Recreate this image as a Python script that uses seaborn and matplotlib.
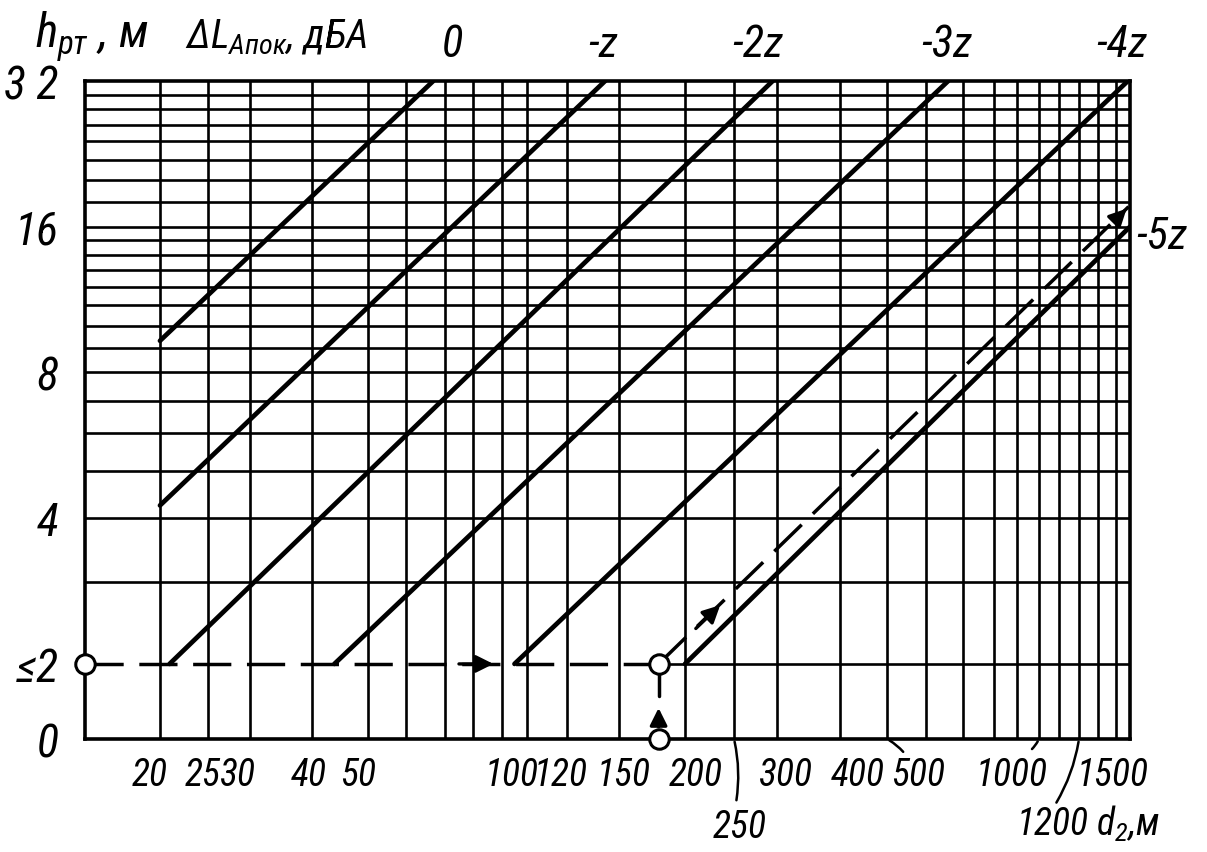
import numpy as np
import pandas as pd
import seaborn as sns
import matplotlib.pyplot as plt
from matplotlib.ticker import FixedLocator, NullFormatter

# --- nomogram scales -------------------------------------------------------
# distance d2, m  -> place on the printed (non uniform) scale
d_grid = [15, 20, 25, 30, 40, 50, 60, 70, 80, 90, 100, 120, 150, 200, 250, 300,
          400, 500, 600, 700, 800, 900, 1000, 1100, 1200, 1300, 1400, 1500]
d_scale = [85, 160, 208, 250, 312, 368, 406, 445, 473, 502, 527, 567, 619, 685,
           734, 777, 840, 887, 926, 963, 994, 1017, 1039, 1059, 1079, 1098, 1116, 1130]
# height h_rt, m -> doublings above 2 m (the "<=2" strip lies below 0)
h_knots = [2, 3, 4, 8, 16, 32]
h_scale = [0, 0.563, 1, 2, 3, 4]
strip = 0.515

h_grid = [3, 4, 5, 6, 7, 8, 9, 10, 11, 12, 13, 14, 15, 16, 18, 20, 22, 24, 26, 28, 30]
y_ticks = [0, 2, 4, 8, 16, 32]
y_labels = ['0', '≤2', '4', '8', '16', '3 2']
x_labels = [20, 25, 30, 40, 50, 100, 120, 150, 200, 250, 300, 400, 500, 1000, 1200, 1500]

# --- lines of equal dLA (start / end points) -------------------------------
iso_names = ['0', '-z', '-2z', '-3z', '-4z', '-5z']
d_start = [20, 20, 21, 44, 95, 200]
h_start = [9.3, 4.25, 2, 2, 2, 2]
d_end = [67, 142, 295, 660, 1485, 1500]
h_end = [32, 32, 32, 32, 32, 16]

# example key path
d_key = 180
key_end = (1490, 17.6)


def interp_ext(x, xp, fp):
    x = np.asarray(x, dtype=float)
    y = np.interp(x, xp, fp)
    y = np.where(x < xp[0], fp[0] + (x - xp[0]) * (fp[1] - fp[0]) / (xp[1] - xp[0]), y)
    y = np.where(x > xp[-1], fp[-1] + (x - xp[-1]) * (fp[-1] - fp[-2]) / (xp[-1] - xp[-2]), y)
    return y


def d_fwd(d):
    return interp_ext(d, d_grid, d_scale)


def d_inv(p):
    return interp_ext(p, d_scale, d_grid)


def h_fwd(h):
    h = np.asarray(h, dtype=float)
    up = interp_ext(np.log2(np.clip(h, 2, None)), np.log2(h_knots), h_scale)
    return np.where(h >= 2, up, (h - 2) / 2 * strip)


def h_inv(p):
    p = np.asarray(p, dtype=float)
    up = 2 ** interp_ext(np.clip(p, 0, None), h_scale, np.log2(h_knots))
    return np.where(p >= 0, up, 2 + p / strip * 2)


sns.set_theme(style='white', rc={'text.color': 'black', 'xtick.color': 'black',
                                 'ytick.color': 'black', 'axes.edgecolor': 'black'})
narrow = 'Roboto Condensed'
plt.rcParams['font.family'] = [narrow, 'Liberation Sans Narrow', 'DejaVu Sans']
plt.rcParams['font.style'] = 'italic'
plt.rcParams['mathtext.fontset'] = 'custom'
plt.rcParams['mathtext.it'] = narrow + ':italic'
plt.rcParams['mathtext.rm'] = narrow + ':italic'

fig = plt.figure(figsize=(12.07, 8.53), dpi=100)
ax = fig.add_axes([0.0704, 0.1325, 0.8658, 0.7714])
ax.set_xscale('function', functions=(d_fwd, d_inv))
ax.set_yscale('function', functions=(h_fwd, h_inv))
ax.set_xlim(15, 1500)
ax.set_ylim(0, 32)

# grid of the nomogram
for d in d_grid[1:-1]:
    ax.axvline(d, color='black', lw=1.9, zorder=1)
for h in h_grid:
    ax.axhline(h, color='black', lw=1.9, zorder=1)
ax.plot([d_key, 1500], [2, 2], color='black', lw=1.9, zorder=1)

# lines of equal dLA
rows = []
for name, ds, hs, de, he in zip(iso_names, d_start, h_start, d_end, h_end):
    rows.append({'line': name, 'd': ds, 'h': hs})
    rows.append({'line': name, 'd': de, 'h': he})
iso = pd.DataFrame(rows)
sns.lineplot(data=iso, x='d', y='h', units='line', estimator=None, sort=False,
             color='black', lw=3.4, ax=ax, zorder=3)

# key path
dash = dict(color='black', lw=2.5, dashes=(11, 4.5), zorder=4)
ax.plot([15, d_key], [2, 2], clip_on=False, **dash)
ax.plot([d_key, key_end[0]], [2, key_end[1]], **dash)
ax.plot([d_key, d_key], [1.15, 1.8], color='black', lw=2.5, zorder=4)
arrow = dict(arrowstyle='-|>', color='black', lw=2.4, mutation_scale=26)
ax.annotate('', xy=(88, 2), xytext=(74, 2), arrowprops=arrow, zorder=5)
ax.annotate('', xy=(d_key, 0.9), xytext=(d_key, 0.25), arrowprops=arrow, zorder=5)
ax.annotate('', xy=(238, 2.7), xytext=(209, 2.36), arrowprops=arrow, zorder=5)
ax.annotate('', xy=key_end, xytext=(1430, 16.9), arrowprops=arrow, zorder=5,
            annotation_clip=False)
ax.plot([15, d_key, d_key], [2, 2, 0], ls='none', marker='o', ms=14, mfc='white',
        mec='black', mew=2.2, clip_on=False, zorder=6)

# axes
for s in ax.spines.values():
    s.set_visible(True)
    s.set_color('black')
    s.set_linewidth(2.6)
ax.xaxis.set_major_locator(FixedLocator(d_grid))
ax.xaxis.set_major_formatter(NullFormatter())
ax.xaxis.set_minor_formatter(NullFormatter())
ax.yaxis.set_major_locator(FixedLocator(y_ticks))
ax.set_yticklabels(y_labels, fontsize=33)
ax.yaxis.set_minor_formatter(NullFormatter())
ax.tick_params(length=0)
ax.tick_params(axis='y', pad=19)
ax.set_xlabel('')
ax.set_ylabel('')

# distance labels (px offsets of the printed sheet)
px = 0.72
x_shift = {20: -10, 25: -5, 30: -12, 40: -3, 50: -10, 100: -15, 120: -6, 150: 5,
           200: 11, 250: 6, 300: 9, 400: 18, 500: 31, 1000: -27, 1500: -17}
for d in x_labels:
    if d == 1200:
        continue
    low = d == 250
    ax.annotate(str(d), xy=(d, 0), xycoords=('data', 'axes fraction'),
                xytext=(x_shift[d] * px, (-88 if low else -36) * px),
                textcoords='offset points', ha='center', va='center', fontsize=27,
                annotation_clip=False)
ax.annotate('1200 $d_2$,м', xy=(1200, 0), xycoords=('data', 'axes fraction'),
            xytext=(-63 * px, -84 * px), textcoords='offset points', ha='left',
            va='center', fontsize=27, annotation_clip=False)
leaders = {250: (2, -64), 500: (18, -15), 1000: (-9, -12), 1200: (-24, -66)}
for d, (dx, dy) in leaders.items():
    ax.annotate('', xy=(d, 0), xycoords=('data', 'axes fraction'),
                xytext=(dx * px, dy * px), textcoords='offset points',
                arrowprops=dict(arrowstyle='-', color='black', lw=1.8,
                                connectionstyle='arc3,rad=0.1'),
                annotation_clip=False)

# dLA labels on top
top_shift = [19, -2, -15, -1, -6]
for name, de, dx in zip(iso_names[:5], d_end[:5], top_shift):
    ax.annotate(name, xy=(de, 1), xycoords=('data', 'axes fraction'),
                xytext=(dx * px, 37 * px), textcoords='offset points',
                ha='center', va='center', fontsize=32, annotation_clip=False)
ax.annotate(iso_names[5], xy=(1500, 15.3), xytext=(6 * px, 0),
            textcoords='offset points', ha='left', va='center', fontsize=32,
            annotation_clip=False)

fig.text(35 / 1207, 1 - 48 / 853, '$h_{рт}$ , м', fontsize=34, va='baseline')
fig.text(185 / 1207, 1 - 48 / 853, '$\\Delta L_{Aпок}$, дБА', fontsize=29, va='baseline')

fig.savefig('out.png', dpi=100)
